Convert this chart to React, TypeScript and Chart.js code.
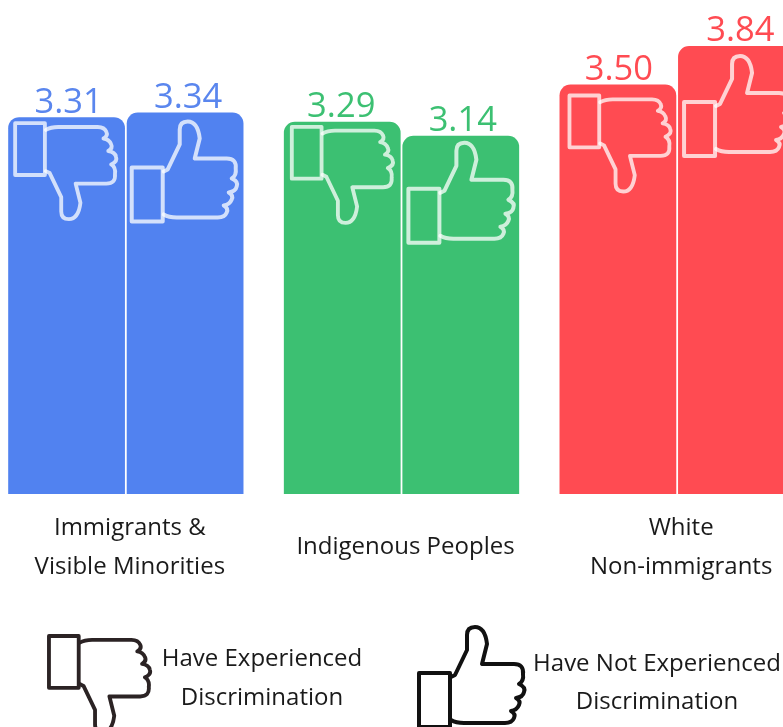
import React, { useEffect, useRef } from "react";
import { Chart, registerables } from "chart.js";

Chart.register(...registerables);

const categories = [["Immigrants &", "Visible Minorities"], "Indigenous Peoples", ["White", "Non-immigrants"]];
// Printed values above the bars
const experiencedLabels = ["3.31", "3.29", "3.50"];
const notExperiencedLabels = ["3.34", "3.14", "3.84"];
// Bar heights as drawn in the picture (the source's bars are not strictly proportional to the printed values)
const experiencedHeights = [3.23, 3.19, 3.51];
const notExperiencedHeights = [3.27, 3.07, 3.84];
const barColors = ["#5182F0", "#3CC072", "#FF4B52"];
const labelColors = ["#5A86EE", "#3CC072", "#FF4B52"];
const legendLeft = ["Have Experienced", "Discrimination"];
const legendRight = ["Have Not Experienced", "Discrimination"];

const CANVAS_LEFT = -12;
const FONT = '"Open Sans", sans-serif';
const HAND =
  "M33 5 L37 3 L49 -22 L49 -37 Q49 -45 57 -45 Q67 -45 69 -28 L64 -8 L96 -8 Q106 -8 105 2 Q106 9 101 12 Q108 15 106 20 Q105 25 98 26 Q103 29 101 33 Q99 38 93 39 Q98 42 96 46 Q94 51 87 51 L46 51 Q38 51 33 48";

function drawThumb(ctx: CanvasRenderingContext2D, x: number, y: number, down: boolean, color: string) {
  const s = down ? 0.96 : 1;
  ctx.save();
  ctx.translate(x, y);
  ctx.scale(s, s);
  if (down) {
    ctx.translate(0, 55);
    ctx.scale(1, -1);
  }
  ctx.strokeStyle = color;
  ctx.lineWidth = 4;
  ctx.lineJoin = "round";
  ctx.lineCap = "round";
  ctx.strokeRect(1, 1, 31, 54);
  ctx.stroke(new Path2D(HAND));
  ctx.restore();
}

// icon offset from each bar's top-left corner [dataset][group]
const iconOffsets = [
  [[6, 6], [7, 5], [9, 11]],
  [[4, 54], [5, 52], [5, 55]],
];
const labelShift = [
  [2, -1, 1],
  [3, 2, 4],
];

const overlay = {
  id: "overlay",
  afterDatasetsDraw(chart: any) {
    const ctx: CanvasRenderingContext2D = chart.ctx;
    [0, 1].forEach((ds) => {
      const meta = chart.getDatasetMeta(ds);
      const labels = ds === 0 ? experiencedLabels : notExperiencedLabels;
      meta.data.forEach((bar: any, i: number) => {
        const p = bar.getProps(["x", "y", "width"], true);
        const left = p.x - p.width / 2;
        const [ox, oy] = iconOffsets[ds][i];
        drawThumb(ctx, left + ox, p.y + oy, ds === 0, "rgba(255,255,255,0.75)");
        ctx.save();
        ctx.font = `34.5px ${FONT}`;
        ctx.fillStyle = labelColors[i];
        ctx.textAlign = "center";
        ctx.textBaseline = "alphabetic";
        ctx.fillText(labels[i], p.x + labelShift[ds][i], p.y - 4.5);
        ctx.restore();
      });
    });
    // Picture legend
    const lx = -CANVAS_LEFT;
    drawThumb(ctx, lx + 48, 636, true, "#2B2324");
    drawThumb(ctx, lx + 418, 672, false, "#111111");
    ctx.save();
    ctx.font = `24px ${FONT}`;
    ctx.fillStyle = "#1A1A1A";
    ctx.textAlign = "center";
    ctx.textBaseline = "middle";
    legendLeft.forEach((t, i) => ctx.fillText(t, lx + 262, 659 + i * 39));
    legendRight.forEach((t, i) => ctx.fillText(t, lx + 657, 664 + i * 38));
    ctx.restore();
  },
};

export default function App() {
  const ref = useRef<HTMLCanvasElement>(null);
  useEffect(() => {
    const chart = new Chart(ref.current!, {
      type: "bar",
      data: {
        labels: categories as any,
        datasets: [
          { label: "Have Experienced Discrimination", data: experiencedHeights, backgroundColor: barColors },
          { label: "Have Not Experienced Discrimination", data: notExperiencedHeights, backgroundColor: barColors },
        ],
      },
      options: {
        responsive: false,
        animation: false,
        layout: { padding: 0 },
        datasets: {
          bar: {
            categoryPercentage: 0.86,
            barPercentage: 0.985,
            borderRadius: { topLeft: 11, topRight: 11, bottomLeft: 0, bottomRight: 0 },
            borderSkipped: false,
          },
        },
        plugins: { legend: { display: false }, tooltip: { enabled: false } },
        scales: {
          y: { display: false, min: 0, max: 4.234 },
          x: {
            grid: { display: false },
            border: { display: false },
            afterFit(scale: any) {
              scale.height = 233;
            },
            ticks: {
              autoSkip: false,
              maxRotation: 0,
              minRotation: 0,
              labelOffset: 4,
              padding: 26,
              crossAlign: "center",
              color: "#1A1A1A",
              font: { family: FONT, size: 24, lineHeight: 1.625 },
            },
          },
        },
      },
      plugins: [overlay],
    } as any);
    return () => chart.destroy();
  }, []);
  return (
    <div style={{ position: "absolute", left: 0, top: 0, width: 783, height: 727, overflow: "hidden", background: "#fff" }}>
      <canvas ref={ref} width={827} height={727} style={{ position: "absolute", left: CANVAS_LEFT, top: 0 }} />
    </div>
  );
}
